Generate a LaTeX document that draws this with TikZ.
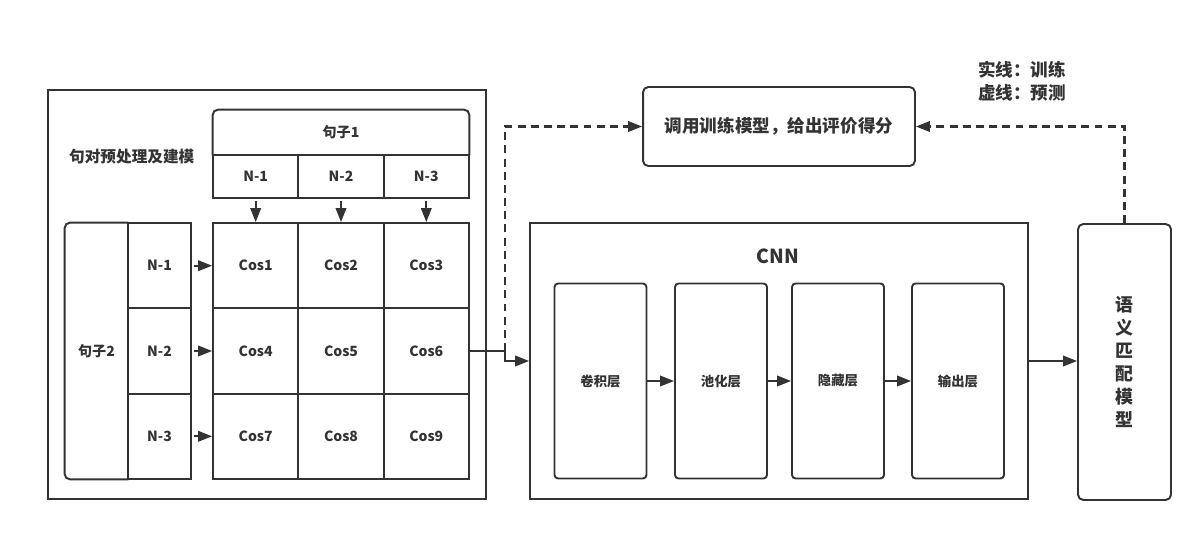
\documentclass[tikz,border=0pt]{standalone}
\usepackage{fontspec}
\setmainfont{Noto Sans CJK SC}
\usetikzlibrary{arrows.meta,calc}
\definecolor{LineClr}{HTML}{333333}

\tikzset{
  box/.style={draw=LineClr,line width=1.1pt,inner sep=0pt,text=LineClr,font=\fontsize{8}{9}\selectfont\bfseries},
  cell/.style={box,minimum width=1.7067cm,minimum height=1.7067cm},
  layer/.style={box,rounded corners=2pt,minimum width=1.84cm,minimum height=3.9cm,font=\fontsize{7.6}{9}\selectfont\bfseries},
  arr/.style={draw=LineClr,line width=1.1pt,-{Triangle[length=2.8mm,width=2.1mm]}},
  dash line/.style={arr,line width=1.2pt,dash pattern=on 4.5pt off 3pt}
}

\begin{document}
\begin{tikzpicture}[x=0.02cm,y=-0.02cm]
\useasboundingbox (0,0) rectangle (1202,533);

% sentence pair preprocessing
\node[box,minimum width=8.76cm,minimum height=8.18cm] (prep) at (267,294.5) {};
\node[anchor=west,text=LineClr,font=\fontsize{8.9}{10}\selectfont\bfseries] (preptitle) at (63,157) {句对预处理及建模};

\node[minimum width=5.12cm,minimum height=0.9cm,inner sep=0pt,text=LineClr,font=\fontsize{8}{9}\selectfont\bfseries] (sa) at (341,132.5) {句子1};
\draw[draw=LineClr,line width=1.1pt,rounded corners=3pt] (sa.south west) |- (sa.north) -| (sa.south east);
\node[box,minimum width=1.7067cm,minimum height=0.86cm] (na1) at (255.7,176.5) {N-1};
\node[box,minimum width=1.7067cm,minimum height=0.86cm] (na2) at (341,176.5) {N-2};
\node[box,minimum width=1.7067cm,minimum height=0.86cm] (na3) at (426.3,176.5) {N-3};

\node[minimum width=1.26cm,minimum height=5.12cm,inner sep=0pt,text=LineClr,font=\fontsize{8}{9}\selectfont\bfseries] (sb) at (96.5,351) {句子2};
\draw[draw=LineClr,line width=1.1pt,rounded corners=3pt] (sb.north east) -| (sb.west) |- (sb.south east);
\node[box,minimum width=1.26cm,minimum height=1.7067cm] (nb1) at (159.5,265.7) {N-1};
\node[box,minimum width=1.26cm,minimum height=1.7067cm] (nb2) at (159.5,351) {N-2};
\node[box,minimum width=1.26cm,minimum height=1.7067cm] (nb3) at (159.5,436.3) {N-3};

\node[cell] (c1) at (255.7,265.7) {Cos1};
\node[cell] (c2) at (341,265.7) {Cos2};
\node[cell] (c3) at (426.3,265.7) {Cos3};
\node[cell] (c4) at (255.7,351) {Cos4};
\node[cell] (c5) at (341,351) {Cos5};
\node[cell] (c6) at (426.3,351) {Cos6};
\node[cell] (c7) at (255.7,436.3) {Cos7};
\node[cell] (c8) at (341,436.3) {Cos8};
\node[cell] (c9) at (426.3,436.3) {Cos9};

\draw[arr,shorten <=1pt] (na1) -- (c1);
\draw[arr,shorten <=1pt] (na2) -- (c2);
\draw[arr,shorten <=1pt] (na3) -- (c3);
\draw[arr,shorten <=1pt] (nb1) -- (c1);
\draw[arr,shorten <=1pt] (nb2) -- (c4);
\draw[arr,shorten <=1pt] (nb3) -- (c7);

% CNN
\node[box,minimum width=9.96cm,minimum height=5.52cm] (cnn) at (779,361) {};
\node[text=LineClr,font=\fontsize{11}{12}\selectfont\bfseries] (cnntitle) at (778,256) {CNN};
\node[layer] (conv) at (600.5,381) {卷积层};
\node[layer] (pool) at (721,381) {池化层};
\node[layer] (hide) at (838,381) {隐藏层};
\node[layer] (out) at (958,381) {输出层};
\draw[arr] (conv) -- (pool);
\draw[arr] (pool) -- (hide);
\draw[arr] (hide) -- (out);

% matching model and evaluation
\node[box,rounded corners=3pt,minimum width=1.86cm,minimum height=5.52cm,align=center,
  font=\fontsize{10.2}{13.1}\selectfont\bfseries] (model) at (1124.5,362) {语\\义\\匹\\配\\模\\型};
\node[box,rounded corners=3pt,minimum width=5.44cm,minimum height=1.58cm,
  font=\fontsize{10}{11}\selectfont\bfseries] (eval) at (779,126.5) {调用训练模型，给出评价得分};
\node[align=left,text=LineClr,font=\fontsize{10}{13}\selectfont\bfseries] (legend) at (1022,81) {实线：训练\\虚线：预测};

\coordinate (jn) at (505,351);
\draw[arr] (c6) -- (jn) |- (cnn.west);
\draw[dash line] (jn) |- (eval.west);
\draw[arr] (cnn.east) -- (cnn.east -| model.west);
\draw[dash line] (model.north) |- (eval.east);

\end{tikzpicture}
\end{document}
